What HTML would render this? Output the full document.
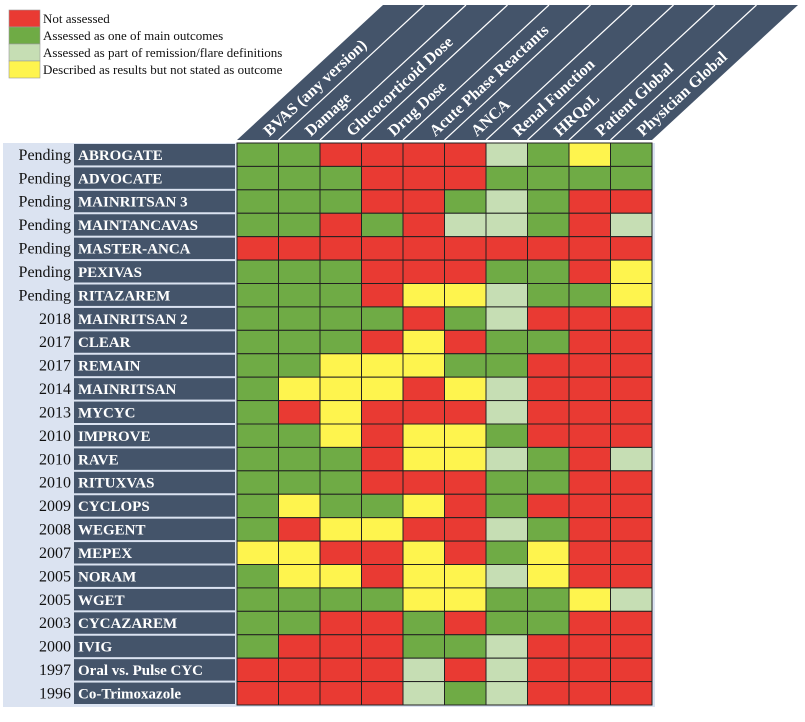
<!DOCTYPE html>
<html><head><meta charset="utf-8"><style>
html,body{margin:0;padding:0;background:#fff;}
svg{display:block;font-family:"Liberation Serif",serif;}
</style></head><body>
<svg id="chart" width="805" height="722" viewBox="0 0 805 722">
<g id="legend"></g>
<g id="header"></g>
<g id="labels"></g>
<g id="cells"></g>
</svg>
<script>
const columns = ["BVAS (any version)","Damage","Glucocorticoid Dose","Drug Dose","Acute Phase Reactants","ANCA","Renal Function","HRQoL","Patient Global","Physician Global"];
const years = ["Pending","Pending","Pending","Pending","Pending","Pending","Pending","2018","2017","2017","2014","2013","2010","2010","2010","2009","2008","2007","2005","2005","2003","2000","1997","1996"];
const trials = ["ABROGATE","ADVOCATE","MAINRITSAN 3","MAINTANCAVAS","MASTER-ANCA","PEXIVAS","RITAZAREM","MAINRITSAN 2","CLEAR","REMAIN","MAINRITSAN","MYCYC","IMPROVE","RAVE","RITUXVAS","CYCLOPS","WEGENT","MEPEX","NORAM","WGET","CYCAZAREM","IVIG","Oral vs. Pulse CYC","Co-Trimoxazole"];
const status = [
"GGRRRRLGYG","GGGRRRGGGG","GGGRRGLGRR","GGRGRLLGRL","RRRRRRRRRR","GGGRRRGGRY",
"GGGRYYLGGY","GGGGRGLRRR","GGGRYRGGRR","GGYYYGGRRR","GYYYRYLRRR","GRYRRRLRRR",
"GGYRYYGRRR","GGGRYYLGRL","GGGRRRGGRR","GYGGYRGRRR","GRYYRRLGRR","YYRRYRGYRR",
"GYYRYYLYRR","GGGGYYGGYL","GGRRGRGGRR","GRRRGGLRRR","RRRRLRLRRR","RRRRLGLRRR"];
const legendKeys = ["R","G","L","Y"];
const legendLabels = ["Not assessed","Assessed as one of main outcomes","Assessed as part of remission/flare definitions","Described as results but not stated as outcome"];

const colors = {R:"#e93a33",G:"#6fab45",L:"#c6deb4",Y:"#fef44e"};
const NS="http://www.w3.org/2000/svg";
function mk(tag,attrs,parent){const e=document.createElementNS(NS,tag);for(const k in attrs)e.setAttribute(k,attrs[k]);parent.appendChild(e);return e;}
const gx0=237,gx1=652,gy0=143,gy1=705;
const cw=(gx1-gx0)/columns.length, rh=(gy1-gy0)/trials.length;
const xPos=i=>gx0+i*cw, yPos=j=>gy0+j*rh;

// legend
const lg=document.getElementById('legend');
legendKeys.forEach((k,i)=>{
  const r=mk('rect',{x:9,y:10+i*17,width:31,height:17,fill:colors[k],stroke:"#999","stroke-width":0.6},lg);
  
  
  const t=mk('text',{x:43,y:23+i*17,"font-size":13,fill:"#111"},lg);
  t.textContent=legendLabels[i];
  
  
});

// header
const hd=document.getElementById('header');
const headerTop=5, dx=146;
mk('polygon',{points:`${gx0},${gy0-3} ${gx1},${gy0-3} ${gx1+dx},${headerTop} ${gx0+dx},${headerTop}`,fill:"#44546a"},hd);
const ang=Math.atan2(gy0-3-headerTop,dx)*180/Math.PI;
columns.forEach((c,i)=>{
  const x=xPos(i);
  if(i>0){const l=mk('line',{x1:x,y1:gy0-3,x2:x+dx,y2:headerTop,stroke:"#fff","stroke-width":1.2},hd);
    
    }
  const bx=x+cw*0.78, by=gy0-6;
  const t=mk('text',{x:bx,y:by,"font-size":16,"font-weight":"bold",fill:"#fff",transform:`rotate(${-ang} ${bx} ${by})`},hd);
  t.textContent=c;
  
  
});

// labels
const lb=document.getElementById('labels');
mk('rect',{x:3,y:gy0,width:gx0-3,height:gy1-gy0+2,fill:"#dbe3f1"},lb);
trials.forEach((tr,j)=>{
  const y=yPos(j);
  const yt=mk('text',{x:71,y:y+rh*0.72,"font-size":16,fill:"#111","text-anchor":"end"},lb);
  yt.textContent=years[j];
  
  
  const r=mk('rect',{x:74,y:y+1,width:161,height:rh-2,fill:"#44546a"},lb);
  
  
  const nt=mk('text',{x:78,y:y+rh*0.72,"font-size":15,"font-weight":"bold",fill:"#fff"},lb);
  nt.textContent=tr;
  
  
});

// cells
const cg=document.getElementById('cells');
mk('rect',{x:gx1,y:gy0,width:3,height:gy1-gy0+2,fill:"#dbe3f1"},cg);
mk('rect',{x:gx0,y:gy1,width:gx1-gx0+3,height:2,fill:"#dbe3f1"},cg);
status.forEach((row,j)=>{
  row.split('').forEach((k,i)=>{
    const r=mk('rect',{x:xPos(i),y:yPos(j),width:cw,height:rh,fill:colors[k],stroke:"#222","stroke-width":1},cg);
    
    
  });
});
</script>
</body></html>
